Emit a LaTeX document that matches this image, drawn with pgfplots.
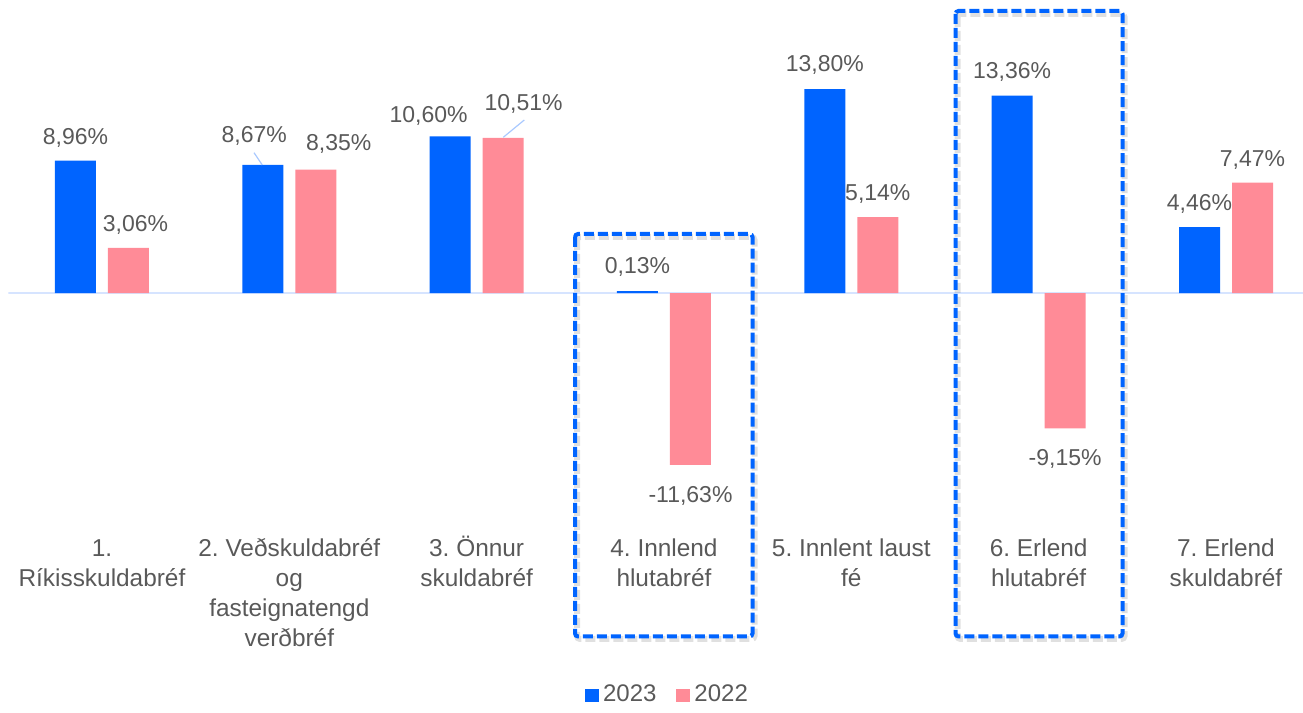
\documentclass[border=0pt]{standalone}
\usepackage{fontspec}
\setmainfont{Liberation Sans}
\usepackage{pgfplots}
\usepackage{pgfplotstable}
\pgfplotsset{compat=1.18}

\definecolor{c23}{HTML}{0064FF}
\definecolor{c22}{HTML}{FF8B97}
\definecolor{txt}{HTML}{595959}
\definecolor{zeroline}{HTML}{D6E4FF}
\definecolor{leader}{HTML}{A9C9FF}

% x = category index, y = value, dx/dy = label offset (pt) from the bar tip
\pgfplotstableread{
x y dx dy
0 8.96 0 8.3
1 8.67 -4.25 11.3
2 10.60 -10.75 7
3 0.13 0 8.9
4 13.80 0 8.65
5 13.36 0 8.6
6 4.46 0 8.5
}\tabA

\pgfplotstableread{
x y dx dy
0 3.06 3.5 8
1 8.35 11.5 9.8
2 10.51 10.25 13.5
3 -11.63 0 -18.7
4 5.14 0 8.5
5 -9.15 0 -18.75
6 7.47 0 8.3
}\tabB

\begin{document}
\begin{tikzpicture}
\begin{scope}[x=0.5pt,y=-0.5pt]
\path[use as bounding box] (0,0) rectangle (1303,703);
\end{scope}

\begin{axis}[
    at={(4.15pt,-250pt)}, anchor=south west,
    scale only axis, width=647.25pt, height=214.3pt,
    xmin=-0.5, xmax=6.41, ymin=-14, ymax=15,
    axis line style={draw=none},
    major tick length=0pt,
    ytick=\empty,
    xtick={0,...,6},
    xticklabels={
        {\strut 1.\\Ríkisskuldabréf},
        {\strut 2. Veðskuldabréf\\og\\fasteignatengd\\verðbréf},
        {\strut 3. Önnur\\skuldabréf},
        {\strut 4. Innlend\\hlutabréf},
        {\strut 5. Innlent laust\\fé},
        {\strut 6. Erlend\\hlutabréf},
        {\strut 7. Erlend\\skuldabréf}},
    xticklabel style={font=\fontsize{12.2}{15}\selectfont\frenchspacing, text=txt,
        align=center, inner sep=0pt, anchor=north, yshift=-17.5pt},
    ybar, bar width=20.5pt,
    visualization depends on={\thisrow{dx} \as \dx},
    visualization depends on={\thisrow{dy} \as \dy},
    nodes near coords={\pgfmathprintnumber[fixed,fixed zerofill,precision=2,use comma,assume math mode=true]{\pgfplotspointmeta}\%},
    every node near coord/.append style={font=\fontsize{11.5}{13}\selectfont,
        text=txt, anchor=base, inner sep=0pt, xshift=\dx pt, yshift=\dy pt},
    legend image code/.code={\fill (0pt,-3.4pt) rectangle (7pt,3.1pt);},
    legend style={at={(0.51,-0.455)}, anchor=center, draw=none, fill=none,
        font=\fontsize{12}{14}\selectfont, text=txt, legend columns=2,
        /tikz/every even column/.append style={column sep=8pt}},
]
% zero line, drawn before the bars
\draw[zeroline, line width=0.9pt] (axis cs:-0.5,0) -- (axis cs:6.41,0);
\addplot[fill=c23, draw=none, bar shift=-13.25pt] table[x=x, y=y] {\tabA};
\addlegendentry{2023}
\addplot[fill=c22, draw=none, bar shift=13.25pt] table[x=x, y=y] {\tabB};
\addlegendentry{2022}
\end{axis}

\begin{scope}[x=0.5pt,y=-0.5pt]
% leader lines of the moved labels
\draw[leader, line width=0.6pt] (254,152.7) -- (262.3,165);
\draw[leader, line width=0.6pt] (524.3,120) -- (503.3,137.3);
% highlight boxes
\foreach \l/\t/\r in {575/234/752.5, 955.5/11/1122.5} {
  \draw[black, opacity=0.12, line width=3pt, dash pattern=on 5pt off 2pt,
        rounded corners=1.5pt] (\l+2,\t+3) rectangle (\r+2,639);
  \draw[c23, line width=2pt, dash pattern=on 5pt off 2pt,
        rounded corners=1.5pt] (\l,\t) rectangle (\r,636.5);
}
\end{scope}
\end{tikzpicture}
\end{document}
